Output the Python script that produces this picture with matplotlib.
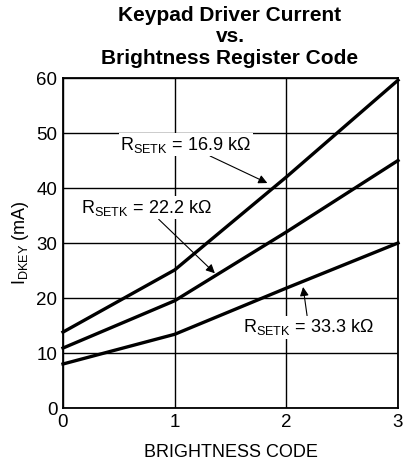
import matplotlib
matplotlib.use("Agg")
import matplotlib.pyplot as plt

plt.rcParams['font.family'] = ['Liberation Sans', 'DejaVu Sans']
plt.rcParams['mathtext.fontset'] = 'custom'
plt.rcParams['mathtext.rm'] = 'Liberation Sans'
plt.rcParams['mathtext.it'] = 'Liberation Sans'

# data
codes = [0, 1, 2, 3]
i_169 = [13.8, 25.1, 42.0, 59.6]
i_222 = [10.9, 19.5, 32.0, 45.0]
i_333 = [8.0, 13.4, 21.8, 30.0]

fig = plt.figure(figsize=(4.04, 4.69), dpi=100)
ax = fig.add_axes([63 / 404, 1 - 408 / 469, 335 / 404, 330 / 469])

for ys in (i_169, i_222, i_333):
    ax.plot(codes, ys, color='black', lw=2.4, solid_joinstyle='round', clip_on=False, zorder=3)

ax.set_xlim(0, 3)
ax.set_ylim(0, 60)
ax.set_xticks([0, 1, 2, 3])
ax.set_yticks(range(0, 61, 10))
ax.grid(True, color='black', lw=1.0)
ax.tick_params(length=0, labelsize=13.5, pad=4)
for s in ax.spines.values():
    s.set_linewidth(1.3)

ax.set_xlabel('BRIGHTNESS CODE', fontsize=13, labelpad=10)
ax.set_ylabel(r'I$_{\mathregular{DKEY}}$ (mA)', fontsize=13, labelpad=4)
fig.text(230 / 404, 1 - 6 / 469, 'Keypad Driver Current\nvs.\nBrightness Register Code',
         ha='center', va='top', fontsize=15, fontweight='bold', linespacing=1.15)

bbox = dict(facecolor='white', edgecolor='none', pad=1)
arrow = dict(arrowstyle='-|>', color='black', lw=0.8, mutation_scale=13,
             shrinkA=0, shrinkB=0)
fs = 13
ax.annotate(r'R$_{\mathregular{SETK}}$ = 16.9 k$\Omega$', xy=(1.83, 40.9),
            xytext=(1.1, 47.9), ha='center', va='center', fontsize=fs,
            bbox=bbox, arrowprops=arrow, zorder=4)
ax.annotate(r'R$_{\mathregular{SETK}}$ = 22.2 k$\Omega$', xy=(1.36, 24.5),
            xytext=(0.75, 36.4), ha='center', va='center', fontsize=fs,
            bbox=bbox, arrowprops=arrow, zorder=4)
ax.annotate(r'R$_{\mathregular{SETK}}$ = 33.3 k$\Omega$', xy=(2.15, 22.0),
            xytext=(2.2, 14.7), ha='center', va='center', fontsize=fs,
            bbox=bbox, arrowprops=arrow, zorder=4)

fig.savefig('out.png', dpi=100)
